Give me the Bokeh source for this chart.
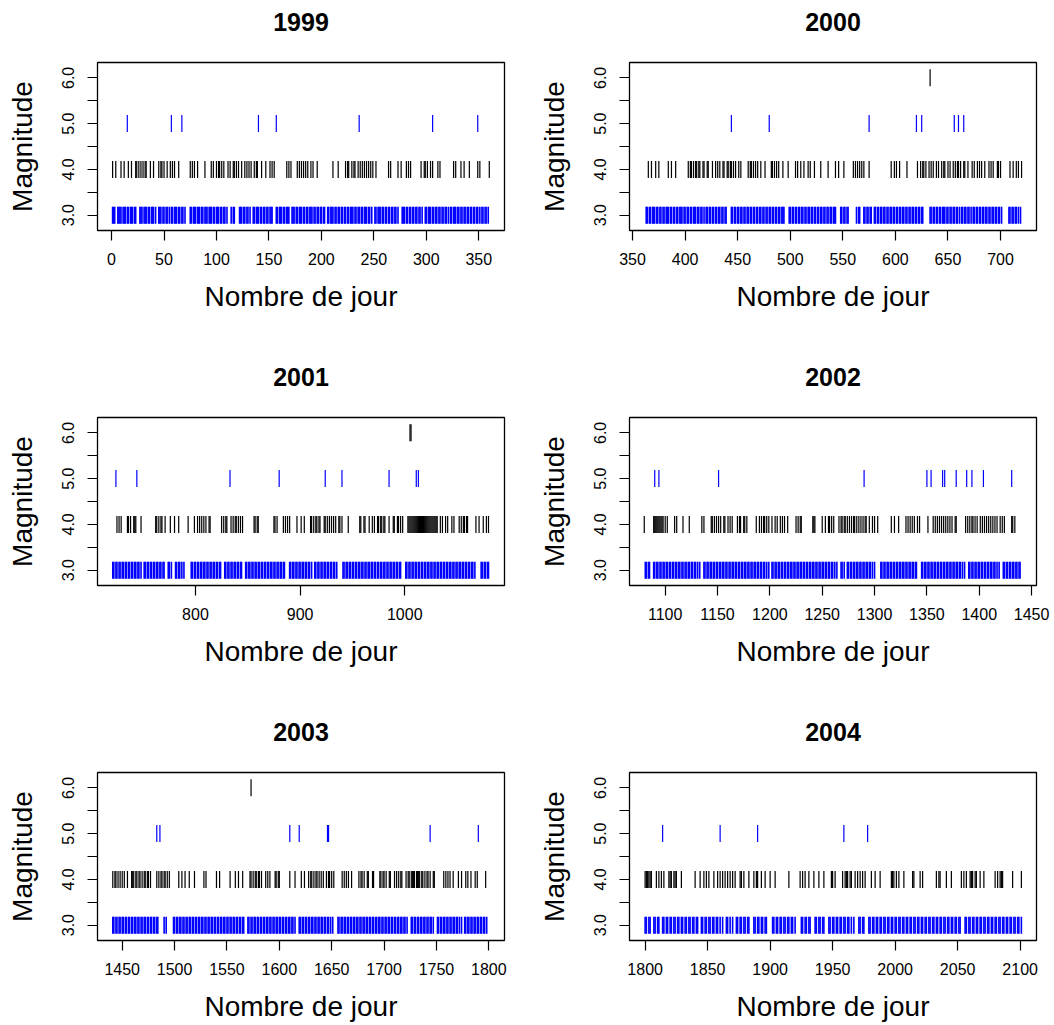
import math
from bokeh.plotting import figure
from bokeh.layouts import gridplot
from bokeh.models import FixedTicker, PrintfTickFormatter, Range1d, LinearAxis
from bokeh.embed import file_html
from bokeh.resources import INLINE

years = ["1999", "2000", "2001", "2002", "2003", "2004"]
x_ticks = [
    [0, 50, 100, 150, 200, 250, 300, 350],
    [350, 400, 450, 500, 550, 600, 650, 700],
    [800, 900, 1000],
    [1100, 1150, 1200, 1250, 1300, 1350, 1400, 1450],
    [1450, 1500, 1550, 1600, 1650, 1700, 1750, 1800],
    [1800, 1850, 1900, 1950, 2000, 2050, 2100],
]
x_limits = [(-13.4, 374.5), (347.1, 734.2), (706.4, 1095.3),
            (1065.9, 1454.7), (1426.4, 1815.0), (1787.5, 2113.1)]
y_ticks = [3.0, 3.5, 4.0, 4.5, 5.0, 5.5, 6.0]
y_limits = (2.664, 6.336)

# ---- magnitude 6 events (day numbers) ----
m6_1999 = []
m6_2000 = [633]
m6_2001 = [1005, 1006]
m6_2002 = []
m6_2003 = [1573]
m6_2004 = []

# ---- magnitude 5 events ----
m5_1999 = [15, 57, 67, 140, 157, 236, 306, 349]
m5_2000 = [444, 480, 575, 620, 625, 656, 660, 665]
m5_2001 = [724, 744, 833, 880, 924, 940, 985, 1011, 1013]
m5_2002 = [1090, 1094, 1151, 1290, 1350, 1354, 1365, 1367, 1378, 1388, 1393, 1404, 1431]
m5_2003 = [1483, 1486, 1610, 1619, 1646, 1647, 1744, 1790]
m5_2004 = [1814, 1860, 1890, 1959, 1978]

# ---- magnitude 4 events ----
m4_1999 = [1, 4, 9, 12, 16, 19, 23, 24, 26, 28, 30, 32, 33, 37, 40, 45, 47, 48, 50, 53, 56, 58, 60, 64,
           75, 77, 79, 82, 89, 95, 97, 100, 102, 103, 105, 107, 111, 113, 116, 117, 119, 121, 124, 127,
           129, 131, 133, 136, 138, 139, 143, 147, 151, 153, 155, 167, 169, 171, 177, 179, 181, 183, 185,
           187, 190, 192, 196, 211, 216, 223, 225, 226, 229, 231, 232, 235, 237, 239, 241, 243, 245, 247,
           249, 252, 264, 266, 273, 276, 281, 283, 285, 295, 298, 299, 301, 304, 306, 311, 313, 326, 328,
           333, 336, 341, 349, 351, 360]
m4_2000 = [365, 368, 372, 375, 384, 387, 391, 403, 405, 406, 408, 410, 411, 413, 414, 417, 418, 421, 422,
           426, 429, 431, 433, 436, 437, 440, 441, 443, 444, 446, 448, 451, 453, 460, 462, 463, 465, 467,
           469, 472, 476, 482, 483, 485, 487, 489, 493, 498, 505, 507, 510, 513, 517, 519, 523, 529, 536,
           543, 546, 551, 560, 562, 564, 566, 568, 570, 575, 596, 599, 601, 604, 611, 621, 624, 626, 627,
           629, 632, 634, 636, 639, 641, 644, 646, 647, 650, 652, 655, 657, 659, 660, 662, 665, 666, 669,
           673, 675, 678, 680, 682, 685, 689, 691, 693, 697, 698, 700, 709, 712, 715, 717, 720]
m4_2001 = [725, 727, 729, 735, 736, 738, 741, 742, 743, 748, 762, 763, 765, 767, 768, 771, 776, 780, 784,
           793, 799, 802, 804, 806, 808, 810, 813, 814, 825, 827, 829, 830, 834, 836, 838, 839, 841, 843,
           845, 856, 857, 859, 860, 875, 876, 878, 884, 886, 888, 890, 897, 901, 904, 910, 911, 913, 915,
           916, 918, 919, 923, 924, 926, 928, 930, 932, 934, 937, 938, 940, 946, 957, 958, 961, 962, 966,
           969, 971, 974, 975, 977, 978, 980, 981, 985, 989, 990, 993, 994, 996, 998, 1003, 1004, 1005,
           1006, 1007, 1008, 1009, 1010, 1011, 1012, 1013, 1014, 1015, 1016, 1017, 1018, 1019, 1020, 1021,
           1022, 1023, 1024, 1025, 1026, 1027, 1028, 1029, 1030, 1031, 1034, 1036, 1039, 1041, 1045, 1047,
           1052, 1054, 1056, 1057, 1059, 1060, 1068, 1071, 1075, 1078, 1080]
m4_2002 = [1080, 1089, 1090, 1091, 1092, 1093, 1094, 1095, 1096, 1097, 1098, 1100, 1102, 1109, 1111, 1117,
           1123, 1135, 1137, 1144, 1145, 1147, 1149, 1151, 1153, 1156, 1157, 1160, 1162, 1164, 1169, 1171,
           1172, 1175, 1176, 1178, 1187, 1190, 1192, 1194, 1195, 1197, 1199, 1202, 1205, 1207, 1210, 1212,
           1214, 1217, 1225, 1227, 1229, 1230, 1241, 1242, 1243, 1250, 1253, 1256, 1257, 1259, 1261, 1266,
           1268, 1269, 1271, 1272, 1274, 1276, 1278, 1280, 1281, 1283, 1285, 1287, 1289, 1291, 1292, 1295,
           1298, 1300, 1303, 1316, 1319, 1323, 1330, 1332, 1334, 1336, 1338, 1341, 1343, 1351, 1356, 1358,
           1360, 1362, 1364, 1366, 1368, 1370, 1372, 1374, 1377, 1378, 1387, 1389, 1391, 1393, 1394, 1396,
           1398, 1401, 1403, 1405, 1407, 1409, 1411, 1413, 1415, 1417, 1420, 1422, 1424, 1431, 1432, 1434]
m4_2003 = [1441, 1443, 1444, 1446, 1448, 1450, 1452, 1455, 1459, 1460, 1461, 1463, 1464, 1466, 1467, 1469,
           1471, 1472, 1474, 1475, 1477, 1483, 1485, 1487, 1488, 1490, 1491, 1493, 1495, 1504, 1507, 1510,
           1514, 1519, 1528, 1530, 1540, 1543, 1553, 1558, 1561, 1565, 1572, 1573, 1575, 1577, 1578, 1580,
           1581, 1583, 1587, 1589, 1591, 1596, 1597, 1599, 1600, 1610, 1615, 1621, 1624, 1628, 1630, 1631,
           1633, 1635, 1636, 1638, 1640, 1642, 1645, 1647, 1648, 1650, 1652, 1660, 1662, 1664, 1666, 1669,
           1676, 1678, 1679, 1681, 1684, 1685, 1689, 1690, 1696, 1697, 1699, 1700, 1702, 1705, 1706, 1710,
           1712, 1714, 1716, 1717, 1721, 1723, 1724, 1726, 1727, 1728, 1729, 1731, 1732, 1733, 1734, 1736,
           1737, 1739, 1741, 1742, 1744, 1747, 1748, 1757, 1759, 1761, 1763, 1766, 1771, 1774, 1778, 1780,
           1783, 1787, 1789, 1797]
m4_2004 = [1800, 1801, 1802, 1803, 1804, 1805, 1809, 1811, 1813, 1815, 1819, 1820, 1821, 1823, 1824, 1825,
           1829, 1840, 1844, 1847, 1849, 1851, 1855, 1858, 1860, 1862, 1864, 1866, 1868, 1870, 1872, 1876,
           1877, 1879, 1883, 1887, 1889, 1890, 1893, 1896, 1900, 1904, 1915, 1924, 1926, 1928, 1931, 1935,
           1939, 1943, 1949, 1950, 1952, 1958, 1960, 1961, 1962, 1964, 1965, 1968, 1970, 1972, 1974, 1976,
           1981, 1984, 1988, 1997, 1998, 1999, 2001, 2003, 2007, 2014, 2015, 2020, 2022, 2033, 2035, 2036,
           2041, 2045, 2053, 2055, 2057, 2060, 2061, 2062, 2064, 2065, 2068, 2071, 2080, 2082, 2084, 2085,
           2086, 2094, 2101]

# ---- magnitude 3 events ----
m3_1999 = [1, 2, 3, 6, 7, 8, 9, 11, 12, 13, 15, 16, 18, 19, 20, 22, 23, 27, 28, 29, 31, 32, 33, 35, 36, 38,
           39, 40, 42, 45, 46, 47, 49, 50, 52, 53, 55, 57, 58, 60, 61, 62, 64, 65, 67, 68, 70, 75, 76, 78,
           79, 80, 82, 83, 84, 86, 87, 89, 90, 91, 93, 94, 95, 97, 98, 100, 101, 102, 104, 105, 107, 108,
           110, 114, 116, 117, 122, 123, 124, 126, 127, 129, 130, 132, 135, 136, 138, 139, 140, 142, 143,
           145, 146, 148, 149, 151, 152, 153, 157, 158, 160, 161, 162, 164, 165, 167, 168, 169, 172, 173,
           174, 176, 177, 179, 180, 181, 183, 184, 186, 187, 189, 190, 191, 193, 194, 196, 197, 199, 200,
           202, 203, 206, 207, 209, 210, 211, 213, 214, 216, 217, 219, 220, 222, 223, 225, 226, 228, 229,
           230, 232, 233, 235, 236, 238, 239, 241, 242, 243, 245, 246, 248, 251, 252, 254, 255, 256, 258,
           259, 261, 262, 264, 265, 267, 268, 270, 271, 273, 277, 278, 279, 281, 282, 284, 285, 287, 288,
           290, 291, 293, 294, 296, 299, 300, 302, 303, 304, 306, 307, 309, 310, 312, 313, 315, 316, 318,
           319, 321, 323, 324, 326, 327, 328, 330, 331, 333, 334, 336, 337, 339, 340, 342, 343, 345, 346,
           348, 349, 351, 353, 354, 356, 357, 359]
m3_2000 = [363, 364, 366, 367, 369, 370, 371, 373, 374, 376, 377, 379, 380, 382, 383, 384, 386, 387, 389,
           390, 392, 393, 395, 396, 397, 399, 400, 402, 403, 405, 406, 408, 409, 410, 412, 413, 415, 416,
           418, 420, 421, 423, 424, 426, 427, 429, 430, 432, 433, 435, 436, 438, 439, 444, 445, 447, 448,
           450, 451, 453, 454, 456, 457, 459, 460, 462, 463, 465, 466, 468, 469, 471, 472, 474, 475, 477,
           478, 480, 481, 483, 484, 486, 487, 489, 490, 492, 493, 494, 499, 500, 502, 503, 505, 506, 508,
           509, 511, 512, 514, 515, 517, 518, 520, 521, 523, 524, 526, 527, 529, 530, 532, 533, 535, 536,
           538, 539, 541, 542, 543, 548, 549, 551, 552, 554, 555, 563, 565, 566, 570, 571, 573, 574, 576,
           577, 580, 581, 583, 584, 586, 587, 589, 590, 592, 593, 595, 596, 598, 599, 601, 602, 604, 605,
           607, 608, 610, 611, 613, 614, 616, 617, 619, 620, 622, 623, 625, 626, 633, 634, 636, 637, 639,
           640, 642, 643, 645, 646, 647, 649, 650, 652, 653, 655, 656, 658, 659, 661, 663, 664, 666, 667,
           669, 670, 672, 674, 675, 677, 678, 680, 681, 683, 684, 686, 687, 689, 690, 692, 693, 695, 696,
           698, 699, 701, 708, 709, 711, 712, 714, 715, 717, 719]
m3_2001 = [721, 722, 724, 725, 727, 728, 730, 731, 733, 734, 736, 737, 739, 740, 742, 743, 745, 746, 748,
           751, 752, 754, 755, 757, 758, 760, 761, 763, 764, 766, 767, 769, 770, 774, 775, 777, 781, 782,
           784, 785, 787, 789, 796, 797, 799, 800, 802, 803, 805, 806, 808, 809, 811, 812, 814, 815, 817,
           818, 820, 821, 823, 824, 828, 829, 831, 832, 834, 835, 837, 838, 840, 841, 843, 844, 848, 849,
           851, 852, 854, 855, 857, 858, 860, 861, 863, 864, 866, 867, 869, 870, 872, 873, 875, 876, 878,
           879, 881, 882, 884, 885, 890, 891, 893, 894, 896, 897, 899, 900, 902, 903, 905, 906, 908, 909,
           911, 914, 915, 917, 918, 920, 921, 923, 924, 926, 927, 929, 930, 932, 933, 935, 941, 942, 944,
           945, 947, 948, 950, 951, 953, 954, 956, 957, 959, 960, 962, 963, 965, 966, 968, 969, 971, 972,
           974, 975, 977, 978, 980, 981, 983, 984, 986, 987, 989, 990, 992, 993, 995, 996, 1001, 1002,
           1004, 1005, 1007, 1008, 1010, 1011, 1013, 1014, 1016, 1017, 1019, 1020, 1022, 1023, 1025, 1026,
           1028, 1029, 1031, 1032, 1034, 1035, 1037, 1038, 1040, 1041, 1043, 1044, 1046, 1047, 1049, 1050,
           1052, 1053, 1055, 1056, 1058, 1059, 1061, 1062, 1064, 1065, 1067, 1073, 1074, 1076, 1077, 1079,
           1080]
m3_2002 = [1081, 1082, 1084, 1085, 1089, 1090, 1092, 1093, 1095, 1096, 1098, 1099, 1101, 1102, 1104, 1105,
           1107, 1108, 1110, 1111, 1113, 1114, 1116, 1117, 1119, 1120, 1122, 1123, 1125, 1126, 1128, 1129,
           1131, 1133, 1137, 1138, 1140, 1141, 1143, 1144, 1146, 1147, 1149, 1150, 1152, 1153, 1155, 1156,
           1158, 1159, 1161, 1162, 1164, 1165, 1167, 1168, 1170, 1171, 1173, 1174, 1176, 1177, 1179, 1180,
           1182, 1183, 1185, 1186, 1188, 1189, 1191, 1192, 1194, 1195, 1197, 1199, 1202, 1203, 1205, 1206,
           1208, 1209, 1211, 1212, 1214, 1215, 1217, 1218, 1220, 1221, 1223, 1224, 1226, 1227, 1229, 1230,
           1232, 1233, 1235, 1236, 1238, 1239, 1241, 1242, 1244, 1245, 1247, 1248, 1250, 1251, 1253, 1254,
           1256, 1257, 1259, 1260, 1262, 1264, 1268, 1269, 1271, 1274, 1275, 1277, 1278, 1280, 1281, 1283,
           1284, 1286, 1287, 1289, 1290, 1292, 1293, 1295, 1296, 1298, 1300, 1306, 1307, 1309, 1310, 1312,
           1313, 1315, 1316, 1318, 1319, 1321, 1322, 1324, 1325, 1327, 1328, 1330, 1331, 1333, 1334, 1336,
           1337, 1339, 1340, 1345, 1346, 1348, 1349, 1351, 1352, 1354, 1355, 1357, 1358, 1360, 1361, 1363,
           1364, 1366, 1367, 1369, 1370, 1372, 1373, 1375, 1376, 1378, 1379, 1381, 1382, 1384, 1386, 1390,
           1391, 1393, 1394, 1396, 1397, 1399, 1400, 1402, 1403, 1405, 1406, 1408, 1409, 1411, 1412, 1414,
           1415, 1417, 1419, 1423, 1424, 1426, 1427, 1429, 1430, 1432, 1433, 1435, 1436, 1438, 1439]
m3_2003 = [1441, 1442, 1444, 1445, 1447, 1448, 1450, 1451, 1453, 1454, 1456, 1457, 1459, 1460, 1462, 1463,
           1465, 1466, 1468, 1469, 1471, 1472, 1474, 1475, 1477, 1478, 1480, 1481, 1483, 1484, 1490, 1492,
           1499, 1500, 1502, 1503, 1505, 1506, 1508, 1509, 1511, 1512, 1514, 1515, 1517, 1518, 1520, 1521,
           1523, 1524, 1526, 1527, 1529, 1530, 1532, 1533, 1535, 1536, 1538, 1539, 1541, 1542, 1544, 1545,
           1547, 1548, 1550, 1551, 1553, 1554, 1556, 1557, 1559, 1560, 1562, 1563, 1565, 1566, 1570, 1571,
           1573, 1574, 1576, 1577, 1579, 1580, 1582, 1583, 1585, 1586, 1588, 1589, 1591, 1592, 1594, 1595,
           1597, 1598, 1600, 1601, 1603, 1604, 1606, 1607, 1609, 1610, 1612, 1613, 1615, 1619, 1620, 1622,
           1623, 1625, 1626, 1628, 1629, 1631, 1632, 1634, 1635, 1637, 1638, 1640, 1641, 1643, 1644, 1646,
           1647, 1649, 1651, 1656, 1657, 1659, 1660, 1662, 1663, 1665, 1666, 1668, 1669, 1671, 1672, 1674,
           1675, 1677, 1678, 1680, 1681, 1683, 1684, 1686, 1687, 1689, 1690, 1692, 1693, 1695, 1696, 1698,
           1699, 1701, 1702, 1704, 1705, 1707, 1708, 1710, 1711, 1713, 1714, 1716, 1717, 1719, 1720, 1722,
           1726, 1727, 1729, 1730, 1732, 1733, 1735, 1736, 1738, 1739, 1741, 1742, 1744, 1745, 1747, 1751,
           1752, 1754, 1755, 1757, 1758, 1760, 1761, 1763, 1764, 1766, 1767, 1769, 1770, 1772, 1774, 1777,
           1778, 1780, 1781, 1783, 1784, 1786, 1787, 1789, 1790, 1792, 1793, 1795, 1796, 1798]
m3_2004 = [1800, 1801, 1803, 1804, 1807, 1808, 1810, 1811, 1814, 1815, 1817, 1818, 1820, 1821, 1823, 1824,
           1826, 1827, 1829, 1830, 1832, 1833, 1835, 1836, 1838, 1839, 1841, 1842, 1845, 1846, 1848, 1849,
           1851, 1852, 1854, 1855, 1857, 1858, 1860, 1862, 1865, 1866, 1868, 1870, 1873, 1874, 1876, 1877,
           1879, 1880, 1882, 1883, 1887, 1888, 1890, 1891, 1893, 1894, 1896, 1897, 1902, 1903, 1905, 1906,
           1908, 1909, 1911, 1912, 1914, 1915, 1917, 1918, 1920, 1925, 1926, 1928, 1929, 1931, 1932, 1936,
           1937, 1939, 1940, 1942, 1943, 1947, 1948, 1950, 1951, 1953, 1954, 1956, 1957, 1959, 1960, 1962,
           1963, 1965, 1967, 1971, 1972, 1974, 1975, 1979, 1980, 1982, 1983, 1985, 1986, 1988, 1989, 1991,
           1992, 1994, 1995, 1997, 1998, 2000, 2001, 2003, 2004, 2006, 2007, 2009, 2010, 2012, 2013, 2015,
           2016, 2018, 2019, 2021, 2022, 2024, 2025, 2027, 2028, 2030, 2031, 2033, 2034, 2036, 2037, 2039,
           2040, 2042, 2043, 2045, 2046, 2048, 2049, 2051, 2052, 2056, 2057, 2059, 2060, 2062, 2063, 2065,
           2066, 2068, 2069, 2071, 2072, 2074, 2075, 2077, 2078, 2080, 2081, 2083, 2084, 2086, 2087, 2089,
           2090, 2092, 2093, 2095, 2096, 2098, 2099, 2101]

panels = [
    (m3_1999, m4_1999, m5_1999, m6_1999),
    (m3_2000, m4_2000, m5_2000, m6_2000),
    (m3_2001, m4_2001, m5_2001, m6_2001),
    (m3_2002, m4_2002, m5_2002, m6_2002),
    (m3_2003, m4_2003, m5_2003, m6_2003),
    (m3_2004, m4_2004, m5_2004, m6_2004),
]
magnitudes = [3, 4, 5, 6]
mag_colors = ["#0000FF", "#000000", "#0000FF", "#000000"]
mag_widths = [1.6, 1.2, 1.2, 1.2]

FONT = "Liberation Sans"
FRAME_W = 407
FRAME_H = 168
COL_W = 527
ROW_H = [355, 355, 315]
TOP = 62

figs = []
for i, yr in enumerate(years):
    r, c = divmod(i, 2)
    W = COL_W
    H = ROW_H[r]
    left = 97 if c == 0 else 102
    right = W - left - FRAME_W
    bottom = H - TOP - FRAME_H
    p = figure(width=W, height=H,
               x_range=Range1d(*x_limits[i]), y_range=Range1d(*y_limits),
               output_backend="svg", toolbar_location=None,
               min_border_left=left, min_border_right=right,
               min_border_top=TOP, min_border_bottom=bottom)
    p.grid.visible = False
    p.outline_line_color = "black"
    p.outline_line_width = 1.3
    p.background_fill_color = "white"
    p.border_fill_color = "white"

    for ax in (p.xaxis[0], p.yaxis[0]):
        ax.axis_line_color = None
        ax.major_tick_out = 10
        ax.major_tick_in = 0
        ax.minor_tick_out = 0
        ax.minor_tick_in = 0
        ax.major_tick_line_color = "black"
        ax.major_tick_line_width = 1.2
        ax.major_label_text_font = FONT
        ax.major_label_text_font_size = "16px"
        ax.major_label_text_color = "black"
        ax.axis_label_text_font = FONT
        ax.axis_label_text_font_size = "28px"
        ax.axis_label_text_font_style = "normal"
        ax.axis_label_text_color = "black"

    p.xaxis.ticker = FixedTicker(ticks=x_ticks[i])
    p.xaxis.axis_label = "Nombre de jour"
    p.xaxis.major_label_standoff = 12
    p.xaxis.axis_label_standoff = 13

    p.yaxis.ticker = FixedTicker(ticks=y_ticks)
    p.yaxis.formatter = PrintfTickFormatter(format="%.1f")
    p.yaxis.major_label_overrides = {3.5: "", 4.5: "", 5.5: ""}
    p.yaxis.major_label_orientation = "vertical"
    p.yaxis.major_label_standoff = 13
    p.yaxis.axis_label = "Magnitude"
    p.yaxis.axis_label_standoff = 22

    # panel title drawn as the label of a bare axis above the frame
    title_axis = LinearAxis(ticker=FixedTicker(ticks=[]), axis_label=yr,
                            axis_line_color=None, major_tick_out=0, major_tick_in=0,
                            minor_tick_out=0, minor_tick_in=0, major_label_standoff=0,
                            axis_label_standoff=32,
                            axis_label_text_font=FONT, axis_label_text_font_size="25px",
                            axis_label_text_font_style="bold", axis_label_text_color="black")
    p.add_layout(title_axis, "above")

    for days, mag, col, lw in zip(panels[i], magnitudes, mag_colors, mag_widths):
        if days:
            p.scatter(x=days, y=[mag] * len(days), marker="dash", angle=math.pi / 2,
                      size=17, line_color=col, line_width=lw)
    figs.append(p)

grid = gridplot([[figs[0], figs[1]], [figs[2], figs[3]], [figs[4], figs[5]]],
                toolbar_location=None)
open("out.html", "w").write(file_html(grid, INLINE))
